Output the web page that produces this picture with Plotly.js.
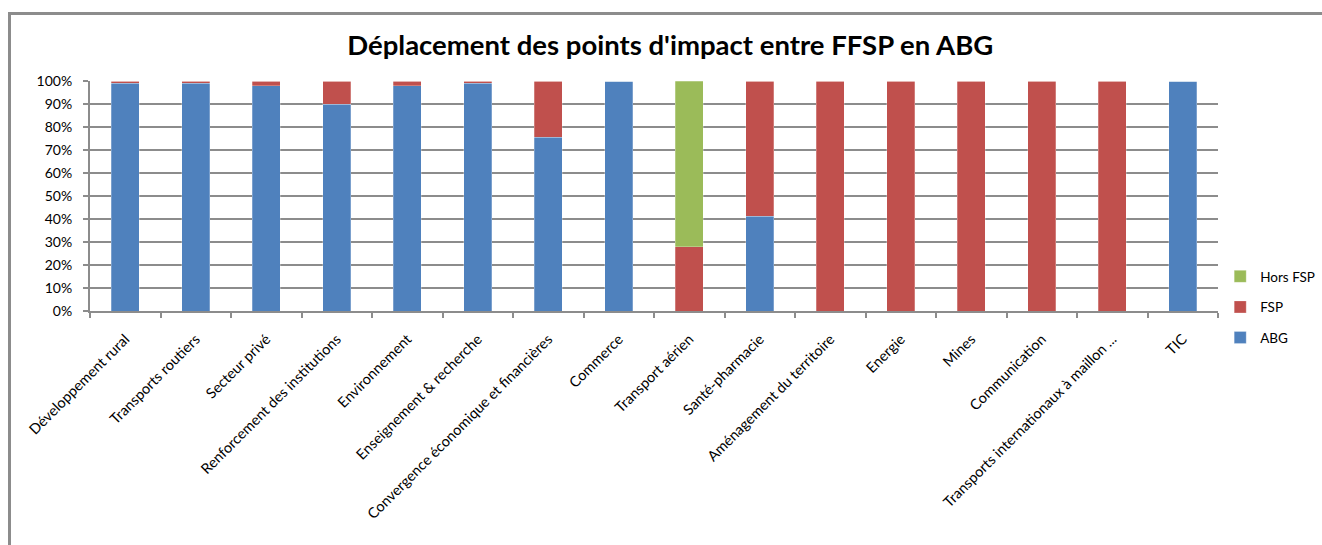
<!DOCTYPE html>
<html>
<head>
<meta charset="utf-8">
<script src="https://cdn.plot.ly/plotly-3.0.1.min.js"></script>
<style>
  body { margin: 0; background: #fff; }
  #frame {
    position: absolute; left: 8px; top: 12px; right: 0; bottom: 0;
    border-top: 3px solid #8c8c8c; border-left: 3px solid #8c8c8c;
  }
  #chart { position: absolute; left: 0; top: 0; width: 1322px; height: 545px; }
</style>
</head>
<body>
<div id="frame"></div>
<div id="chart"></div>
<script>
// Déplacement des points d'impact — parts par secteur (%)
let secteurs = ["Développement rural", "Transports routiers", "Secteur privé",
  "Renforcement des institutions", "Environnement", "Enseignement & recherche",
  "Convergence économique et financières", "Commerce", "Transport aérien",
  "Santé-pharmacie", "Aménagement du territoire", "Energie", "Mines",
  "Communication", "Transports internationaux à maillon ...", "TIC"];
let abg     = [99, 99, 98, 90, 98, 99, 75.5, 100, 0, 41.3, 0, 0, 0, 0, 0, 100];
let fsp     = [1, 1, 2, 10, 2, 1, 24.5, 0, 28, 58.7, 100, 100, 100, 100, 100, 0];
let horsFsp = [0, 0, 0, 0, 0, 0, 0, 0, 72, 0, 0, 0, 0, 0, 0, 0];

let fontFamily = "Lato, 'Open Sans', sans-serif";

function makeTrace(name, values, color, rank) {
  return {
    x: secteurs,
    y: values,
    name: name,
    type: "bar",
    legendgroup: name,
    legendrank: rank,
    marker: {
      color: color,
      line: {color: "rgba(255,255,255,0.5)", width: 0.5}
    },
    hoverinfo: "x+y+name"
  };
}

let plot_data = [
  makeTrace("ABG", abg, "#4f81bd", 3),
  makeTrace("FSP", fsp, "#c0504d", 2),
  makeTrace("Hors FSP", horsFsp, "#9bbb59", 1)
];

let layout = {
  width: 1322,
  height: 545,
  barmode: "stack",
  bargap: 0.6,
  title: {
    text: "<b>Déplacement des points d'impact entre FFSP en ABG</b>",
    font: {family: fontFamily, size: 27.5, color: "#000"},
    x: 0.507,
    xanchor: "center",
    y: 0.917,
    yanchor: "middle"
  },
  font: {family: fontFamily, size: 12, color: "#000"},
  paper_bgcolor: "rgba(0,0,0,0)",
  plot_bgcolor: "#fff",
  margin: {l: 90, r: 104, t: 81, b: 234},
  xaxis: {
    tickangle: -45,
    tickfont: {size: 14.5},
    ticks: "outside",
    tickson: "boundaries",
    ticklen: 5,
    tickcolor: "#8c8c8c",
    tickwidth: 1.5,
    ticklabelstandoff: 12,
    showline: true,
    linecolor: "#8c8c8c",
    linewidth: 2,
    showgrid: false,
    automargin: false
  },
  yaxis: {
    range: [0, 100],
    dtick: 10,
    ticksuffix: "%",
    ticks: "outside",
    ticklen: 5,
    tickcolor: "#8c8c8c",
    tickwidth: 1.5,
    ticklabelstandoff: 8,
    showline: true,
    linecolor: "#8c8c8c",
    linewidth: 2,
    gridcolor: "#8c8c8c",
    gridwidth: 2,
    zeroline: false,
    tickfont: {size: 14},
    automargin: false
  },
  legend: {
    xref: "container",
    x: 0.923,
    xanchor: "left",
    y: 0.217,
    yanchor: "top",
    traceorder: "grouped",
    tracegroupgap: 10,
    font: {size: 13.5},
    itemwidth: 30
  },
  showlegend: true
};

let config = {responsive: false, displayModeBar: false};
Plotly.newPlot("chart", plot_data, layout, config);
</script>
</body>
</html>
